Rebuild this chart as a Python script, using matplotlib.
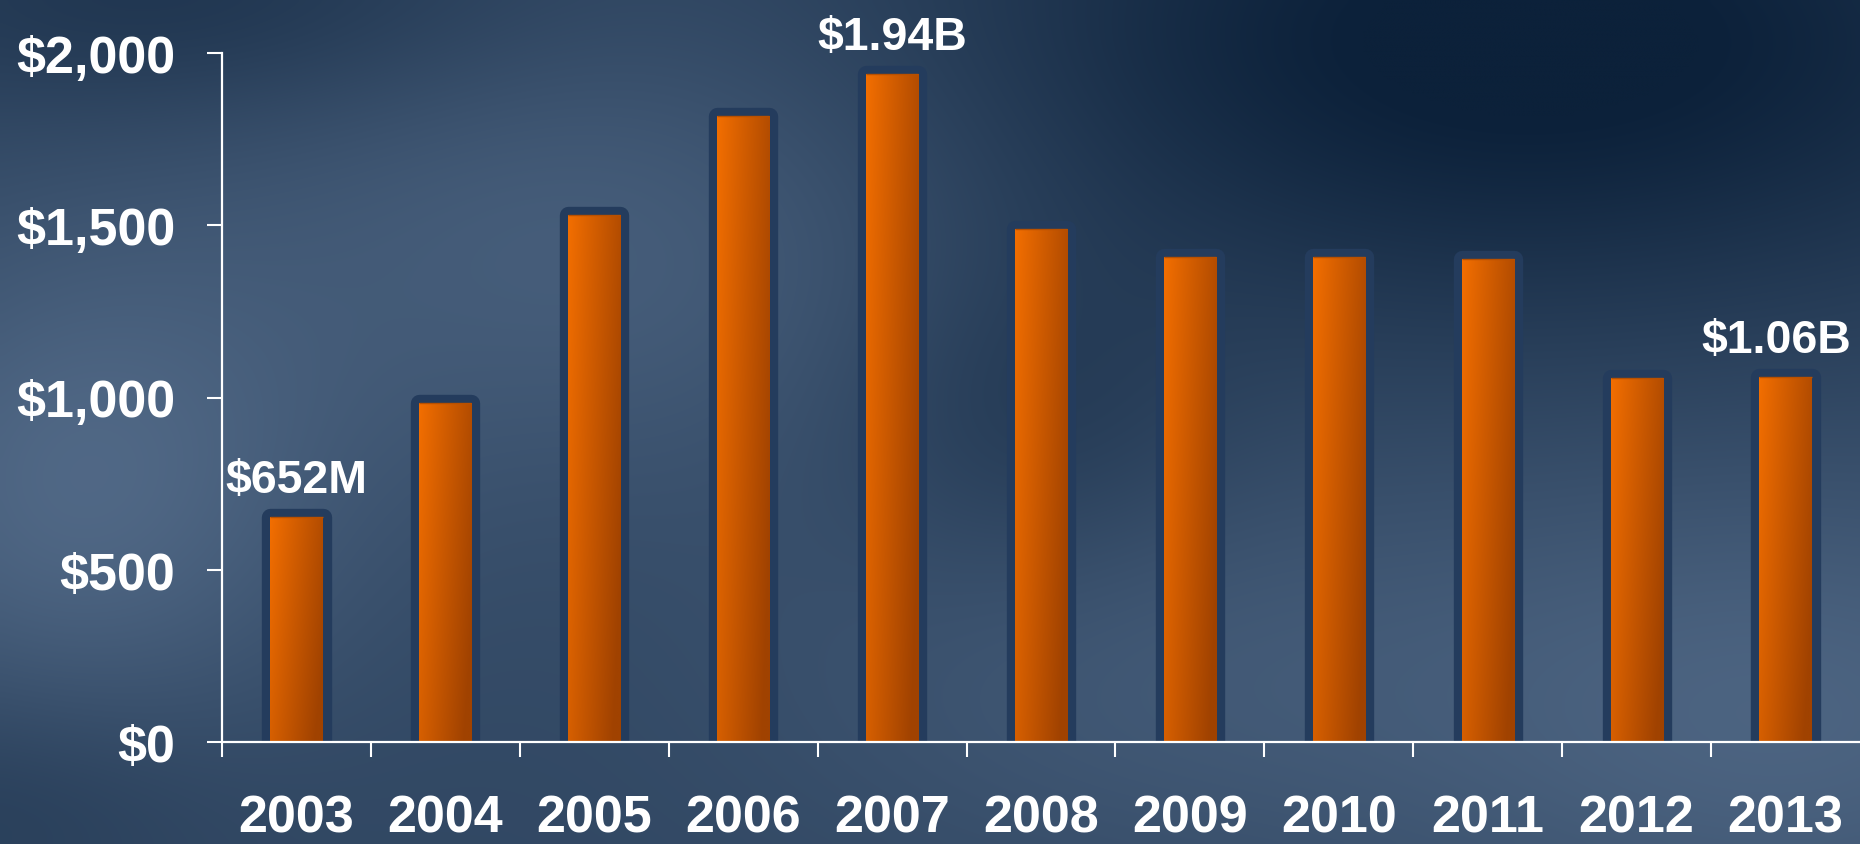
import matplotlib
matplotlib.use('Agg')
import matplotlib.pyplot as plt
import numpy as np

# data
years = ['2003', '2004', '2005', '2006', '2007', '2008', '2009', '2010', '2011', '2012', '2013']
values = [652, 985, 1530, 1818, 1940, 1490, 1409, 1409, 1402, 1058, 1060]
callout_idx = [0, 4, 10]
callout_text = ['$652M', '$1.94B', '$1.06B']
y_ticks = [0, 500, 1000, 1500, 2000]
y_tick_labels = ['$0', '$500', '$1,000', '$1,500', '$2,000']

FONT = 'Liberation Sans'
W_PX, H_PX = 1860, 845

fig = plt.figure(figsize=(W_PX / 100, H_PX / 100), dpi=100)

# background: slate blue with soft lighter patches, darker upper right
bg = fig.add_axes([0, 0, 1, 1])
bg.axis('off')
yy, xx = np.mgrid[0:1:170j, 0:1:372j]

def blob(cx, cy, sx, sy):
    return np.exp(-((xx - cx) / sx) ** 2 - ((yy - cy) / sy) ** 2)

light = (0.50
         + 0.40 * blob(0.04, 0.58, 0.14, 0.30)
         + 0.30 * blob(0.33, 0.28, 0.22, 0.30)
         + 0.35 * blob(0.97, 0.85, 0.22, 0.30)
         + 0.20 * blob(0.62, 0.80, 0.22, 0.25)
         - 0.55 * blob(0.82, 0.05, 0.32, 0.32)
         - 0.20 * blob(0.55, 0.50, 0.10, 0.20)
         - 0.15 * blob(0.00, 0.95, 0.12, 0.15)
         - 0.25 * blob(0.10, 0.00, 0.20, 0.15))
light = np.clip(light, 0, 1)
dark_c = np.array([12, 33, 58]) / 255
lite_c = np.array([86, 110, 140]) / 255
img = dark_c + light[..., None] * (lite_c - dark_c)
bg.imshow(img, extent=[0, 1, 0, 1], aspect='auto', interpolation='bicubic', zorder=0)
bg.set_xlim(0, 1)
bg.set_ylim(0, 1)

# plot area
left = 222 / W_PX
bottom = 1 - 743 / H_PX
top = 1 - 54 / H_PX
ax = fig.add_axes([left, bottom, 1 - left, top - bottom])
ax.patch.set_alpha(0)

x = np.arange(len(years))

# dark frame behind each bar
ax.bar(x, values, width=0.35, color='#243c5d', edgecolor='#243c5d',
       linewidth=12.5, joinstyle='round', zorder=2)
bars = ax.bar(x, values, width=0.35, color='none', linewidth=0, zorder=3)

# orange gradient inside each bar
gy, gx = np.mgrid[0:1:60j, 0:1:30j]
light_o = np.array([242, 110, 0]) / 255
dark_o = np.array([160, 66, 0]) / 255
t = np.clip(0.75 * gx + 0.35 * gy, 0, 1)
grad = light_o + t[..., None] * (dark_o - light_o)
for b in bars:
    x0, w, h = b.get_x(), b.get_width(), b.get_height()
    im = ax.imshow(grad, extent=[x0, x0 + w, 0, h], aspect='auto',
                   interpolation='bilinear', zorder=3)
    im.set_clip_path(b)
    ax.plot([x0, x0 + w], [h, h], color='#b85000', lw=1, zorder=4,
            solid_capstyle='butt')

ax.set_xlim(-0.5, len(years) - 0.5)
ax.set_ylim(0, 2000)
ax.set_aspect('auto')

# axes styling
for s in ['top', 'right']:
    ax.spines[s].set_visible(False)
for s in ['left', 'bottom']:
    ax.spines[s].set_color('white')
    ax.spines[s].set_linewidth(1.6)
    ax.spines[s].set_zorder(5)

ax.set_yticks(y_ticks)
ax.set_yticklabels(y_tick_labels)
ax.set_xticks(x)
ax.set_xticklabels(years)
ax.set_xticks(np.arange(len(years)) - 0.5, minor=True)
ax.tick_params(axis='y', length=10.8, width=1.5, color='white', pad=23,
               labelcolor='white', labelsize=37.5)
ax.tick_params(axis='x', which='major', length=0, pad=37,
               labelcolor='white', labelsize=37.5)
ax.tick_params(axis='x', which='minor', length=10.8, width=1.5, color='white')
for lab in ax.get_xticklabels() + ax.get_yticklabels():
    lab.set_fontfamily(FONT)
    lab.set_fontweight('bold')

# callouts above selected bars
for i, txt in zip(callout_idx, callout_text):
    dx = -7 if i == len(years) - 1 else 0
    ax.annotate(txt, xy=(x[i], values[i]), xytext=(dx, 18),
                textcoords='offset points', ha='center', va='baseline',
                color='white', fontsize=33.5, fontweight='bold',
                fontfamily=FONT, annotation_clip=False, zorder=6)

fig.savefig('out.png', dpi=100)
